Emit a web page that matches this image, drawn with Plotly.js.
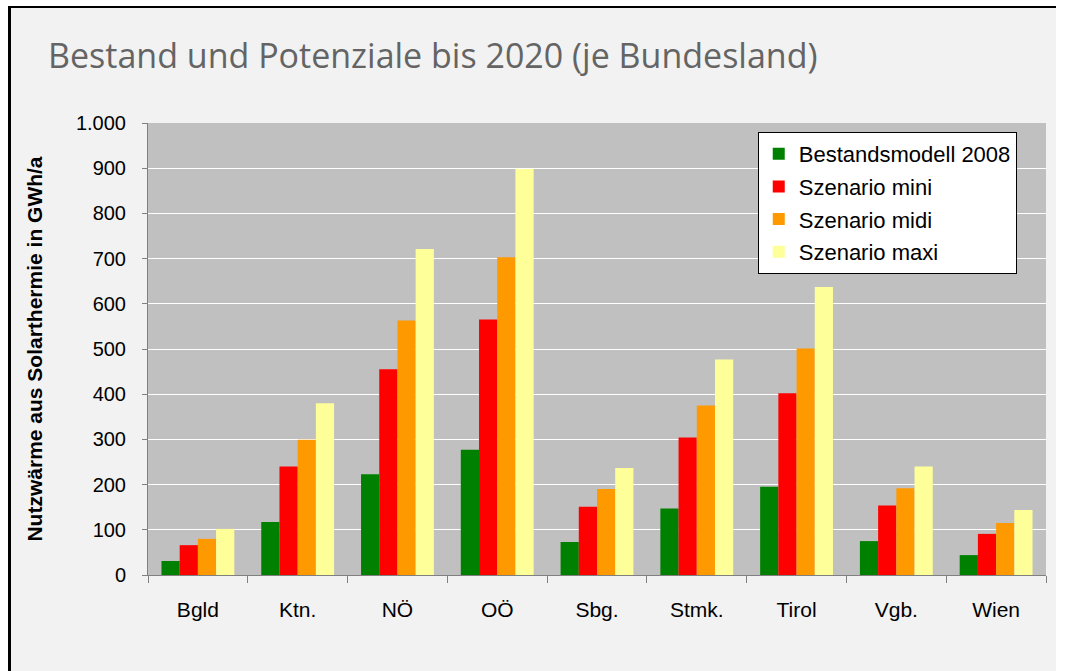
<!DOCTYPE html>
<html>
<head>
<meta charset="utf-8">
<script src="https://cdn.plot.ly/plotly-3.0.1.min.js"></script>
<style>
  html, body { margin: 0; padding: 0; background: #ffffff; }
  #frame { position: absolute; left: 8px; top: 6px; width: 1045px; height: 680px;
           border-left: 3px solid #000; border-top: 2px solid #000; background: #f2f2f2; }
  #chart { position: absolute; left: 0; top: 0; width: 1075px; height: 671px; }
</style>
</head>
<body>
<div id="frame"></div>
<div id="chart"></div>
<script>
const categories = ["Bgld", "Ktn.", "NÖ", "OÖ", "Sbg.", "Stmk.", "Tirol", "Vgb.", "Wien"];
const bestand2008 = [31, 117, 223, 277, 73, 147, 195, 75, 44];
const szenarioMini = [66, 240, 455, 565, 151, 304, 402, 154, 91];
const szenarioMidi = [80, 299, 563, 703, 190, 375, 501, 192, 115];
const szenarioMaxi = [102, 380, 721, 898, 237, 477, 637, 240, 144];
const seriesNames = ["Bestandsmodell 2008", "Szenario mini", "Szenario midi", "Szenario maxi"];
const seriesColors = ["#008000", "#ff0000", "#ff9900", "#ffff99"];
const seriesValues = [bestand2008, szenarioMini, szenarioMidi, szenarioMaxi];

const traces = seriesValues.map((vals, i) => ({
  type: "bar",
  x: categories,
  y: vals,
  name: seriesNames[i],
  legendgroup: "g" + i,
  marker: { color: seriesColors[i], line: { width: 0 } },
  hoverinfo: "x+y+name"
}));

const layout = {
  width: 1075,
  height: 671,
  paper_bgcolor: "rgba(0,0,0,0)",
  plot_bgcolor: "#c0c0c0",
  margin: { l: 148, r: 29, t: 123, b: 96, pad: 0 },
  separators: ",.",
  barmode: "group",
  bargap: 0.27,
  bargroupgap: 0,
  font: { family: "Liberation Sans, Arial, sans-serif", color: "#000" },
  title: {
    text: "Bestand und Potenziale bis 2020 (je Bundesland)",
    font: { family: "Open Sans, sans-serif", size: 34, color: "#646464" },
    x: 0.0447, xref: "container", xanchor: "left",
    y: 0.916, yref: "container", yanchor: "middle",
    pad: { l: 0, t: 0 }
  },
  xaxis: {
    type: "category",
    showgrid: false,
    showline: true,
    linecolor: "#808080",
    linewidth: 1,
    ticks: "outside",
    tickson: "boundaries",
    ticklen: 7,
    tickcolor: "#808080",
    tickfont: { size: 21, color: "#000" },
    ticklabelstandoff: 16,
    fixedrange: true
  },
  yaxis: {
    range: [0, 1000],
    dtick: 100,
    tickformat: ",d",
    showgrid: true,
    gridcolor: "#ffffff",
    gridwidth: 1,
    showline: true,
    linecolor: "#808080",
    linewidth: 1,
    ticks: "outside",
    ticklen: 5,
    tickcolor: "#808080",
    tickfont: { size: 20, color: "#000" },
    ticklabelstandoff: 12,
    zeroline: false,
    title: {
      text: "Nutzwärme aus Solarthermie in GWh/a",
      font: { size: 21, color: "#000", family: "Liberation Sans, Arial, sans-serif", weight: "bold" },
      standoff: 27
    },
    fixedrange: true
  },
  legend: {
    x: 0.679, xanchor: "left",
    y: 0.98, yanchor: "top",
    bgcolor: "#ffffff",
    bordercolor: "#000000",
    borderwidth: 1,
    font: { size: 22, color: "#000" },
    traceorder: "grouped",
    tracegroupgap: 1,
    itemwidth: 30
  },
  showlegend: true
};

Plotly.newPlot("chart", traces, layout, { displayModeBar: false });
</script>
</body>
</html>
